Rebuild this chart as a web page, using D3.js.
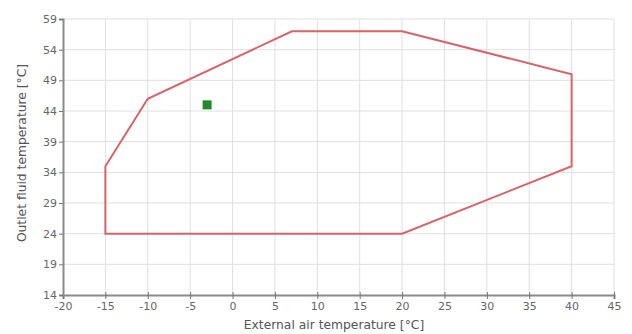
<!DOCTYPE html>
<html>
<head>
<meta charset="utf-8">
<script src="https://cdn.jsdelivr.net/npm/d3@7"></script>
<style>
  body { margin: 0; background: #fff; }
  text { font-family: "DejaVu Sans", sans-serif; }
</style>
</head>
<body>
<script>
// operating envelope (external air temp, outlet fluid temp)
var envelopeX = [-15, -15, -10, 7, 20, 40, 40, 20]
var envelopeY = [24, 35, 46, 57, 57, 50, 35, 24]

var pointX = [-3]
var pointY = [45]

var xTicks = [-20, -15, -10, -5, 0, 5, 10, 15, 20, 25, 30, 35, 40, 45]
var yTicks = [14, 19, 24, 29, 34, 39, 44, 49, 54, 59]

var width = 632
var height = 334
var plotLeft = 63, plotRight = 614, plotTop = 19, plotBottom = 295

var svg = d3.select("body").append("svg")
            .attr("width", width)
            .attr("height", height)

var x = d3.scaleLinear().domain([-20, 45]).range([plotLeft, plotRight])
var y = d3.scaleLinear().domain([14, 59]).range([plotBottom, plotTop])

// grid
svg.append("g").selectAll("line")
   .data(xTicks.slice(1))
   .enter().append("line")
   .attr("x1", function(d) {return x(d)})
   .attr("x2", function(d) {return x(d)})
   .attr("y1", plotTop)
   .attr("y2", plotBottom)
   .attr("stroke", "#e0e0e0")
   .attr("stroke-width", 1)

svg.append("g").selectAll("line")
   .data(yTicks.slice(1))
   .enter().append("line")
   .attr("x1", plotLeft)
   .attr("x2", plotRight)
   .attr("y1", function(d) {return y(d)})
   .attr("y2", function(d) {return y(d)})
   .attr("stroke", "#e0e0e0")
   .attr("stroke-width", 1)

// axes
var fmt = function(d) {return String(d)}
var xAxis = svg.append("g")
   .attr("transform", "translate(0," + plotBottom + ")")
   .call(d3.axisBottom(x).tickValues(xTicks).tickFormat(fmt).tickSize(4).tickPadding(3))
var yAxis = svg.append("g")
   .attr("transform", "translate(" + plotLeft + ",0)")
   .call(d3.axisLeft(y).tickValues(yTicks).tickFormat(fmt).tickSize(4).tickPadding(2))

;[xAxis, yAxis].forEach(function(a) {
  a.select(".domain").attr("stroke", "#8a8a8a").attr("stroke-width", 2)
  a.selectAll(".tick line").attr("stroke", "#777")
  a.selectAll(".tick text").attr("fill", "#666").attr("font-size", "11px")
})
xAxis.selectAll(".tick line").attr("y1", -3)

// envelope
var pts = envelopeX.map(function(d, i) {return [x(d), y(envelopeY[i])]})
svg.append("path")
   .attr("d", d3.line()(pts) + "Z")
   .attr("fill", "none")
   .attr("stroke", "#d96366")
   .attr("stroke-width", 2)

// operating point
svg.selectAll("rect.pt")
   .data(pointX)
   .enter().append("rect")
   .attr("class", "pt")
   .attr("x", function(d) {return x(d) - 4.5})
   .attr("y", function(d, i) {return y(pointY[i]) - 4.5})
   .attr("width", 9)
   .attr("height", 9)
   .attr("fill", "#22892b")

// labels
svg.append("text")
   .attr("x", 334)
   .attr("y", 329)
   .attr("text-anchor", "middle")
   .attr("font-size", "12.3px")
   .attr("fill", "#555")
   .text("External air temperature [°C]")

svg.append("text")
   .attr("transform", "translate(26,153) rotate(-90)")
   .attr("text-anchor", "middle")
   .attr("font-size", "12.3px")
   .attr("fill", "#555")
   .text("Outlet fluid temperature [°C]")
</script>
</body>
</html>
